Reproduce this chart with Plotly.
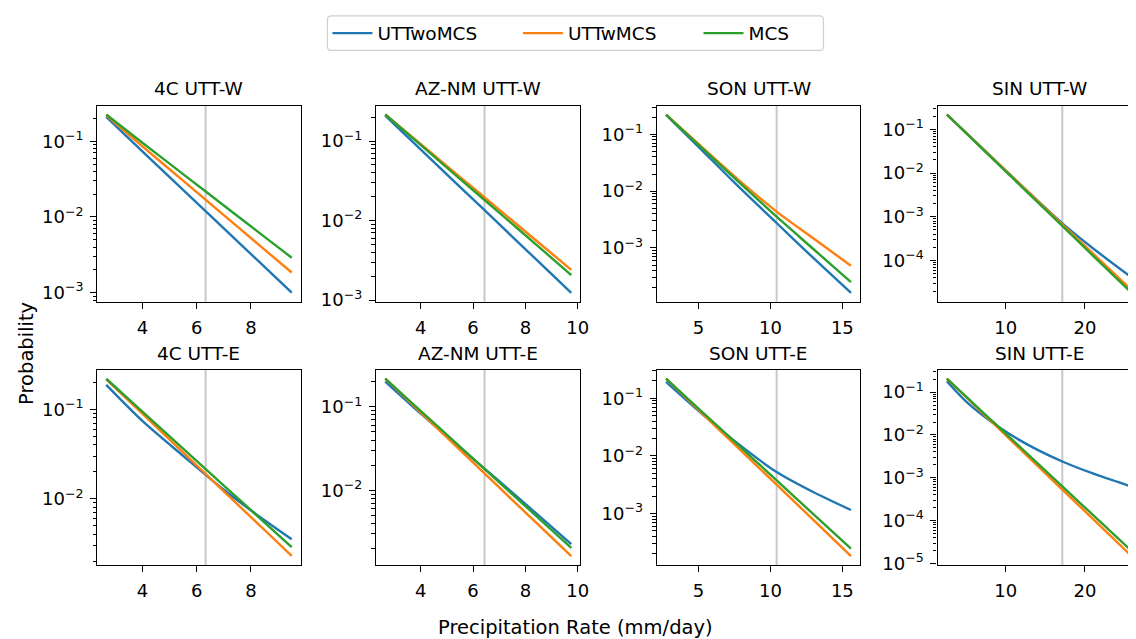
import plotly.graph_objects as go

# ---------------- data ----------------
series_names = ["UTTwoMCS", "UTTwMCS", "MCS"]
panel_titles = ["4C UTT-W", "AZ-NM UTT-W", "SON UTT-W", "SIN UTT-W",
                "4C UTT-E", "AZ-NM UTT-E", "SON UTT-E", "SIN UTT-E"]

x_4c = [2.67, 4, 5.5, 7, 8.5, 9.5]
x_aznm = [2.65, 4, 5.5, 7, 8.5, 9.75]
x_son = [2.74, 5, 7.5, 10.43, 13, 15.6]
x_sin = [2.56, 5, 9.17, 13, 17.14, 21, 25.9]

# UTT-W row
w_4c_uttwo = [0.21, 0.0733, 0.0228, 0.00706, 0.00219, 0.0010]
w_4c_uttw = [0.22, 0.0857, 0.0301, 0.01057, 0.00371, 0.00185]
w_4c_mcs = [0.225, 0.0955, 0.0368, 0.01416, 0.00546, 0.0029]

w_aznm_uttwo = [0.209, 0.0787, 0.0266, 0.0090, 0.00304, 0.00123]
w_aznm_uttw = [0.216, 0.0918, 0.0355, 0.0137, 0.0053, 0.0024]
w_aznm_mcs = [0.216, 0.0893, 0.0335, 0.01256, 0.00471, 0.00206]

w_son_uttwo = [0.219, 0.0603, 0.0141, 0.00275, 0.00066, 0.000162]
w_son_uttw = [0.223, 0.0676, 0.0182, 0.00437, 0.00147, 0.000486]
w_son_mcs = [0.223, 0.065, 0.0170, 0.00355, 0.00095, 0.00025]

w_sin_uttwo = [0.218, 0.0832, 0.01585, 0.00347, 0.000708, 0.000191, 0.0000407]
w_sin_uttw = [0.218, 0.0828, 0.0158, 0.00346, 0.00067, 0.000145, 0.0000209]
w_sin_mcs = [0.218, 0.0815, 0.01524, 0.00326, 0.000617, 0.00013, 0.0000182]

# UTT-E row
e_4c_uttwo = [0.187, 0.0741, 0.0302, 0.0126, 0.00575, 0.00353]
e_4c_uttw = [0.216, 0.0891, 0.0329, 0.01213, 0.00448, 0.00231]
e_4c_mcs = [0.219, 0.0942, 0.0364, 0.01406, 0.00543, 0.00288]

e_aznm_uttwo = [0.201, 0.0832, 0.0324, 0.01288, 0.00499, 0.00226]
e_aznm_uttw = [0.217, 0.0857, 0.0304, 0.01081, 0.00384, 0.00162]
e_aznm_mcs = [0.217, 0.0895, 0.0334, 0.01245, 0.00465, 0.00204]

e_son_uttwo = [0.192, 0.0603, 0.0182, 0.00525, 0.00234, 0.00115]
e_son_uttw = [0.219, 0.0630, 0.0158, 0.00316, 0.000767, 0.000182]
e_son_mcs = [0.219, 0.0664, 0.0177, 0.00377, 0.000968, 0.000245]

e_sin_uttwo = [0.179, 0.0603, 0.01514, 0.00562, 0.0024, 0.00126, 0.000617]
e_sin_uttw = [0.206, 0.0759, 0.0138, 0.00288, 0.000531, 0.00011, 0.0000148]
e_sin_mcs = [0.206, 0.0780, 0.01493, 0.00326, 0.000631, 0.000136, 0.0000195]

# vertical reference lines (precipitation rate) per region
thresholds = [6.33, 6.44, 10.43, 17.14]

# x tick values per region column
xticks_cols = [[4, 6, 8], [4, 6, 8, 10], [5, 10, 15], [10, 20]]

panels = [
    (x_4c, [w_4c_uttwo, w_4c_uttw, w_4c_mcs]),
    (x_aznm, [w_aznm_uttwo, w_aznm_uttw, w_aznm_mcs]),
    (x_son, [w_son_uttwo, w_son_uttw, w_son_mcs]),
    (x_sin, [w_sin_uttwo, w_sin_uttw, w_sin_mcs]),
    (x_4c, [e_4c_uttwo, e_4c_uttw, e_4c_mcs]),
    (x_aznm, [e_aznm_uttwo, e_aznm_uttw, e_aznm_mcs]),
    (x_son, [e_son_uttwo, e_son_uttw, e_son_mcs]),
    (x_sin, [e_sin_uttwo, e_sin_uttw, e_sin_mcs]),
]

# ---------------- styling / layout ----------------
W, H = 1136, 639
colors = ["#1f77b4", "#ff7f0e", "#2ca02c"]
FONT = "DejaVu Sans"

col_px = [(90, 295), (371, 577), (654, 859), (937, 1136)]
row_px = [(99, 298), (367, 565)]
x_ranges = [[2.34, 9.83], [2.30, 10.1], [2.10, 16.24], [1.39, 26.32]]
y_ranges = [[-3.12, -0.53], [-3.022, -0.554], [-3.947, -0.495], [-4.944, -0.458],
            [-2.74, -0.56], [-2.896, -0.557], [-3.894, -0.506], [-5.037, -0.48]]

major_y = [10.0 ** -k for k in range(0, 7)]
major_txt = ["10<sup>0</sup>"] + ["10<sup>\u2212%d</sup>" % k for k in range(1, 7)]
minor_y = [m * 10.0 ** -k for k in range(1, 7) for m in range(2, 10)]

# legend placement (pixels)
leg_box = (322, 822, 8, 43)
leg_item_x = [322, 514, 696]
leg_y = 26

fig = go.Figure()
layout = {}
annotations = []
shapes = []
legend_ids = ["legend", "legend2", "legend3"]

for i, (xs, ys_list) in enumerate(panels):
    r, c = divmod(i, 4)
    n = i + 1
    xa = "xaxis" if n == 1 else "xaxis%d" % n
    ya = "yaxis" if n == 1 else "yaxis%d" % n
    xref = "x" if n == 1 else "x%d" % n
    yref = "y" if n == 1 else "y%d" % n
    x0, x1 = col_px[c]
    y0, y1 = row_px[r]
    layout[xa] = dict(
        domain=[x0 / W, x1 / W], anchor=yref, range=x_ranges[c],
        showline=True, linecolor="black", linewidth=1.3, mirror=True,
        ticks="outside", ticklen=6, tickwidth=1.3, tickcolor="black",
        tickmode="array", tickvals=xticks_cols[c],
        showgrid=False, zeroline=False, ticklabelstandoff=3,
        tickfont=dict(family=FONT, size=18, color="black"),
    )
    layout[ya] = dict(
        domain=[1 - y1 / H, 1 - y0 / H], anchor=xref, type="log", range=y_ranges[i],
        showline=True, linecolor="black", linewidth=1.3, mirror=(c != 3),
        ticks="outside", ticklen=6, tickwidth=1.3, tickcolor="black",
        tickmode="array", tickvals=major_y, ticktext=major_txt,
        minor=dict(ticks="outside", ticklen=3.5, tickwidth=1, tickcolor="black",
                   tickmode="array", tickvals=minor_y, showgrid=False),
        showgrid=False, zeroline=False, ticklabelstandoff=3,
        tickfont=dict(family=FONT, size=18, color="black"),
    )
    shapes.append(dict(type="line", xref=xref, yref=yref + " domain",
                       x0=thresholds[c], x1=thresholds[c], y0=0, y1=1,
                       line=dict(color="#c8c8c8", width=2), layer="below"))
    for s, ys in enumerate(ys_list):
        fig.add_trace(go.Scatter(
            x=xs, y=ys, mode="lines", name=series_names[s],
            line=dict(color=colors[s], width=2.4, shape="spline", smoothing=0.8),
            xaxis=xref, yaxis=yref, showlegend=(i == 0), legend=legend_ids[s],
        ))
    annotations.append(dict(
        text=panel_titles[i], x=(x0 + x1) / 2 / W if c != 3 else (937 + 1142) / 2 / W,
        y=1 - (y0 - 17) / H, xref="paper", yref="paper",
        xanchor="center", yanchor="middle", showarrow=False,
        font=dict(family=FONT, size=18.5, color="black"),
    ))

annotations.append(dict(text="Probability", x=18 / W, y=1 - 350 / H, xref="paper",
                        yref="paper", textangle=-90, showarrow=False,
                        xanchor="center", yanchor="middle",
                        font=dict(family=FONT, size=19.5, color="black")))
annotations.append(dict(text="Precipitation Rate (mm/day)", x=572 / W, y=1 - 628 / H,
                        xref="paper", yref="paper", showarrow=False,
                        xanchor="center", yanchor="middle",
                        font=dict(family=FONT, size=19.5, color="black")))

# rounded legend frame
bx0, bx1, by0, by1 = leg_box
rad = 4
px = lambda v: v / W
py = lambda v: 1 - v / H
frame = ("M {a},{b} L {c},{b} Q {d},{b} {d},{e} L {d},{f} Q {d},{g} {c},{g} "
         "L {a},{g} Q {h},{g} {h},{f} L {h},{e} Q {h},{b} {a},{b} Z").format(
    a=px(bx0 + rad), b=py(by0), c=px(bx1 - rad), d=px(bx1), e=py(by0 + rad),
    f=py(by1 - rad), g=py(by1), h=px(bx0))
shapes.append(dict(type="path", xref="paper", yref="paper", path=frame,
                   line=dict(color="#d0d0d0", width=1.2), fillcolor="white", layer="below"))

leg_common = dict(orientation="h", xanchor="left", yanchor="middle",
                  bgcolor="rgba(0,0,0,0)", borderwidth=0,
                  font=dict(family=FONT, size=18.5, color="black"), itemwidth=40)
for k, lid in enumerate(legend_ids):
    layout[lid] = dict(x=leg_item_x[k] / W, y=1 - leg_y / H, **leg_common)

fig.update_layout(
    width=W, height=H, margin=dict(l=0, r=0, t=0, b=0),
    paper_bgcolor="white", plot_bgcolor="white",
    annotations=annotations, shapes=shapes,
    **layout,
)

fig.write_html("out.html")
